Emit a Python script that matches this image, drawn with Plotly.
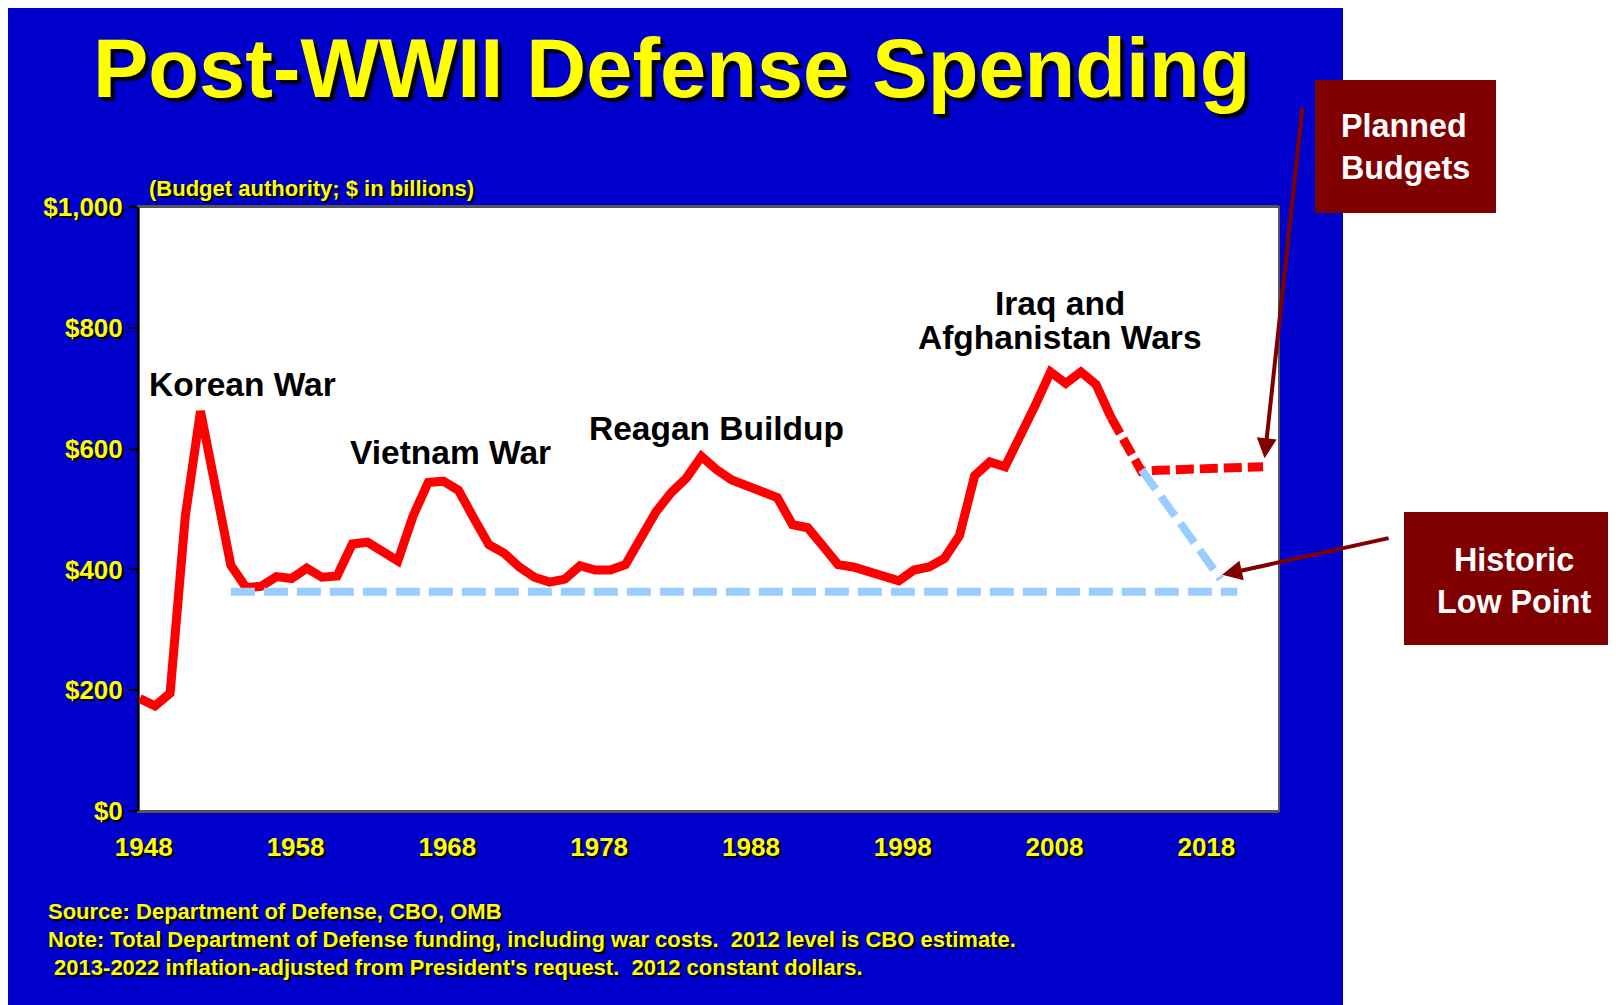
import plotly.graph_objects as go

# ---------------- data ----------------
years_actual = list(range(1948, 2013))
spend_actual = [186, 174, 195, 488, 662, 528, 407, 370, 372, 388,
                385, 402, 387, 389, 442, 445, 431, 414, 488, 544,
                546, 531, 485, 441, 427, 404, 387, 379, 384, 406,
                399, 399, 408, 454, 495, 527, 551, 587, 565, 548,
                538, 531, 519, 474, 469, 439, 408, 404, 396, 391,
                381, 399, 404, 418, 456, 555, 578, 570, 618, 672,
                727, 708, 727, 706, 651]

years_planned = list(range(2012, 2023))
spend_planned = [651, 607, 562, 564, 565, 565, 566, 567, 568, 569, 570]

low_years = [1954, 2020.3]
low_values = [363, 363]

decline_years = [2014, 2019.2]
decline_values = [565, 384]

y_tickvals = [0, 200, 400, 600, 800, 1000]
y_ticktext = ["$0", "$200", "$400", "$600", "$800", "$1,000"]
x_tickvals = [1948, 1958, 1968, 1978, 1988, 1998, 2008, 2018]

title_text = "Post-WWII Defense Spending"
subtitle_text = "(Budget authority; $ in billions)"
war_labels = [
    ("Korean War", 242, 384),
    ("Vietnam War", 450, 452),
    ("Reagan Buildup", 716, 428),
    ("Iraq and", 1060, 303),
    ("Afghanistan Wars", 1060, 337),
]
footnote_lines = [
    "Source: Department of Defense, CBO, OMB",
    "Note: Total Department of Defense funding, including war costs.  2012 level is CBO estimate.",
    " 2013-2022 inflation-adjusted from President's request.  2012 constant dollars.",
]

# ---------------- layout geometry (pixels, page coordinates) ----------------
W, H = 1616, 1005
OFF = 8  # page body margin
L, R, T, B = 139 - OFF, 1279 - OFF, 207 - OFF, 811 - OFF


def px(x):
    return (x - OFF - L) / (R - L)


def py(y):
    return (B - (y - OFF)) / (B - T)


FONT = "Liberation Sans, Arial, Helvetica, sans-serif"
YELLOW = "#FFFF00"
BLUE = "#0000CC"
DARKRED = "#800000"
SHADOW_S = "2px 2px 1px #000000"

fig = go.Figure()

fig.add_trace(go.Scatter(x=years_actual, y=spend_actual, mode="lines",
                         line=dict(color="#FF0000", width=9),
                         hoverinfo="skip", showlegend=False))
fig.add_trace(go.Scatter(x=low_years, y=low_values, mode="lines",
                         line=dict(color="#99CCFF", width=8, dash="24px,9px"),
                         hoverinfo="skip", showlegend=False))
fig.add_trace(go.Scatter(x=years_planned, y=spend_planned, mode="lines",
                         line=dict(color="#FF0000", width=9, dash="18px,6px"),
                         hoverinfo="skip", showlegend=False))
fig.add_trace(go.Scatter(x=decline_years, y=decline_values, mode="lines",
                         line=dict(color="#99CCFF", width=8, dash="24px,9px"),
                         hoverinfo="skip", showlegend=False))

shapes = [
    # blue slide panel
    dict(type="rect", xref="paper", yref="paper", x0=px(8), x1=px(1343),
         y0=py(1020), y1=py(8), fillcolor=BLUE, line=dict(width=0), layer="below"),
    # white plot area
    dict(type="rect", xref="paper", yref="paper", x0=0, x1=1, y0=0, y1=1,
         fillcolor="white", line=dict(color="#555555", width=2), layer="below"),
    # callout boxes
    dict(type="rect", xref="paper", yref="paper", x0=px(1315), x1=px(1496),
         y0=py(213), y1=py(80), fillcolor=DARKRED, line=dict(width=0)),
    dict(type="rect", xref="paper", yref="paper", x0=px(1404), x1=px(1630),
         y0=py(645), y1=py(512), fillcolor=DARKRED, line=dict(width=0)),
]

annotations = []
annotations.append(dict(text=title_text, xref="paper", yref="paper",
                        x=px(671), y=py(68), xanchor="center", yanchor="middle",
                        showarrow=False,
                        font=dict(family=FONT, size=83, color=YELLOW, weight="bold",
                                  shadow="4px 4px 2px #000000")))
annotations.append(dict(text=subtitle_text, xref="paper", yref="paper",
                        x=px(147), y=py(188), xanchor="left", yanchor="middle",
                        showarrow=False,
                        font=dict(family=FONT, size=22, color=YELLOW, weight="bold",
                                  shadow=SHADOW_S)))
for txt, xx, yy in war_labels:
    annotations.append(dict(text=txt, xref="paper", yref="paper",
                            x=px(xx), y=py(yy), xanchor="center", yanchor="middle",
                            showarrow=False,
                            font=dict(family=FONT, size=33.5, color="#000000", weight="bold")))
for i, line in enumerate(footnote_lines):
    annotations.append(dict(text=line.replace(" ", "&nbsp;") if line.startswith(" ") else line,
                            xref="paper", yref="paper",
                            x=px(46), y=py(911 + 28 * i), xanchor="left", yanchor="middle",
                            showarrow=False,
                            font=dict(family=FONT, size=22, color=YELLOW, weight="bold",
                                      shadow=SHADOW_S)))
# callout texts
annotations.append(dict(text="Planned<br>Budgets", xref="paper", yref="paper",
                        x=px(1339), y=py(147.5), xanchor="left", yanchor="middle",
                        align="left", showarrow=False,
                        font=dict(family=FONT, size=32.3, color="white", weight="bold")))
annotations.append(dict(text="Historic<br>Low Point", xref="paper", yref="paper",
                        x=px(1514), y=py(581), xanchor="center", yanchor="middle",
                        align="center", showarrow=False,
                        font=dict(family=FONT, size=32.3, color="white", weight="bold")))
# arrows
annotations.append(dict(x=2022.1, y=584, xref="x", yref="y", text="",
                        showarrow=True, ax=1304 - 1266, ay=106 - 458,
                        arrowhead=2, arrowsize=1.0, arrowwidth=4, arrowcolor=DARKRED))
annotations.append(dict(x=2019.3, y=391, xref="x", yref="y", text="",
                        showarrow=True, ax=1389 - 1221, ay=538 - 575,
                        arrowhead=2, arrowsize=1.0, arrowwidth=4, arrowcolor=DARKRED))

fig.update_layout(
    width=W, height=H,
    margin=dict(l=L, r=W - R, t=T, b=H - B, pad=0),
    paper_bgcolor="white",
    plot_bgcolor="white",
    shapes=shapes,
    annotations=annotations,
    showlegend=False,
    xaxis=dict(range=[1947.95, 2023.05], tickvals=x_tickvals,
               ticks="", showgrid=False, zeroline=False,
               showline=True, linecolor="#555555", linewidth=2, mirror=True,
               ticklabelstandoff=12, ticklabelshift=4,
               tickfont=dict(family=FONT, size=26, color=YELLOW, weight="bold",
                             shadow=SHADOW_S)),
    yaxis=dict(range=[0, 1000], tickvals=y_tickvals, ticktext=y_ticktext,
               ticks="outside", ticklen=8, tickwidth=2, tickcolor="#000000",
               showgrid=False, zeroline=False,
               showline=True, linecolor="#000000", linewidth=2,
               ticklabelstandoff=1,
               tickfont=dict(family=FONT, size=26, color=YELLOW, weight="bold",
                             shadow=SHADOW_S)),
)

fig.write_html("out.html")
